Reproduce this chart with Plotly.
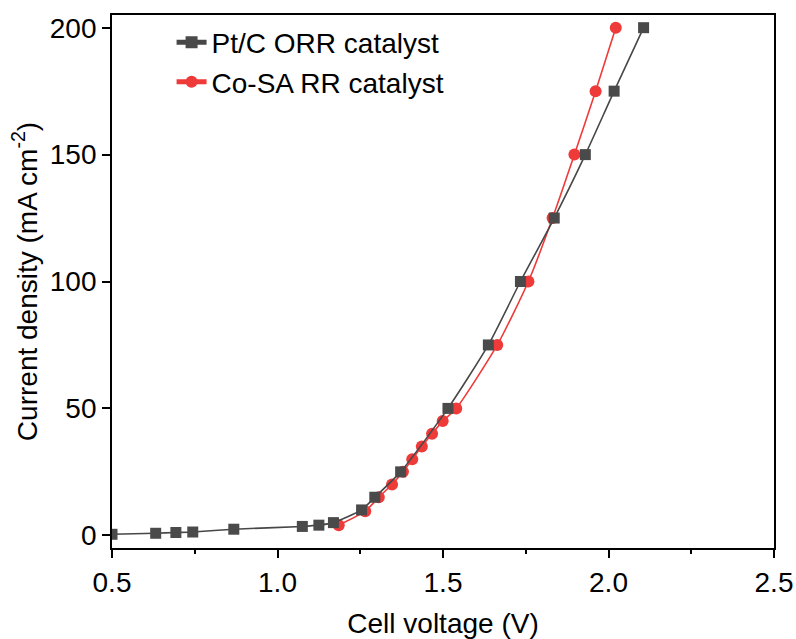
import plotly.graph_objects as go

# Pt/C ORR catalyst
pt_v = [0.5, 0.632, 0.693, 0.744, 0.868, 1.075, 1.125, 1.169, 1.254, 1.294, 1.372,
        1.515, 1.637, 1.734, 1.836, 1.930, 2.017, 2.106]
pt_j = [0.4, 0.8, 1.1, 1.3, 2.4, 3.5, 4.0, 5.0, 10, 15, 25,
        50, 75, 100, 125, 150, 175, 200]

# Co-SA RR catalyst
co_v = [1.185, 1.265, 1.306, 1.346, 1.379, 1.407, 1.436, 1.467, 1.499, 1.540,
        1.664, 1.758, 1.831, 1.897, 1.961, 2.022]
co_j = [4, 9.5, 15, 20, 25, 30, 35, 40, 45, 50,
        75, 100, 125, 150, 175, 200]

x_ticks = [0.5, 1.0, 1.5, 2.0, 2.5]
y_ticks = [0, 50, 100, 150, 200]

FONT = "Liberation Sans, Arial, sans-serif"

fig = go.Figure()
fig.add_trace(go.Scatter(
    x=co_v, y=co_j, name="Co-SA RR catalyst", mode="lines+markers",
    line=dict(color="#ef3a3a", width=1.6, shape="spline", smoothing=0.6),
    marker=dict(symbol="circle", size=12, color="#ef3a3a"),
))
fig.add_trace(go.Scatter(
    x=pt_v, y=pt_j, name="Pt/C ORR catalyst", mode="lines+markers",
    line=dict(color="#474747", width=1.6, shape="spline", smoothing=0.6),
    marker=dict(symbol="square", size=11, color="#4a4a4a"),
))

fig.update_layout(
    width=796, height=639,
    margin=dict(l=112, r=22, t=15, b=91),
    paper_bgcolor="white", plot_bgcolor="white",
    font=dict(family=FONT, size=28, color="black"),
    showlegend=True,
    legend=dict(x=0.09, y=0.995, xanchor="left", yanchor="top",
                traceorder="reversed", bgcolor="rgba(0,0,0,0)",
                font=dict(family=FONT, size=28, color="black"),
                itemsizing="constant", tracegroupgap=0),
    xaxis=dict(
        range=[0.5, 2.5], tickvals=x_ticks, ticktext=[f"{v:.1f}" for v in x_ticks],
        showgrid=False, zeroline=False, automargin=False,
        showline=True, linecolor="black", linewidth=1.8, mirror=True,
        ticks="outside", ticklen=8, tickwidth=1.5, tickcolor="black",
        minor=dict(dtick=0.25, ticks="outside", ticklen=4, tickwidth=1.5, tickcolor="black"),
        title=dict(text="Cell voltage (V)", font=dict(family=FONT, size=28), standoff=18),
        tickfont=dict(family=FONT, size=28),
    ),
    yaxis=dict(
        range=[-5, 205], tickvals=y_ticks,
        showgrid=False, zeroline=False, automargin=False,
        showline=True, linecolor="black", linewidth=1.8, mirror=True,
        ticks="outside", ticklen=8, tickwidth=1.5, tickcolor="black",
        title=dict(text="Current density (mA cm<sup>-2</sup>)", font=dict(family=FONT, size=28), standoff=4),
        tickfont=dict(family=FONT, size=28),
    ),
)

fig.write_html("out.html")
